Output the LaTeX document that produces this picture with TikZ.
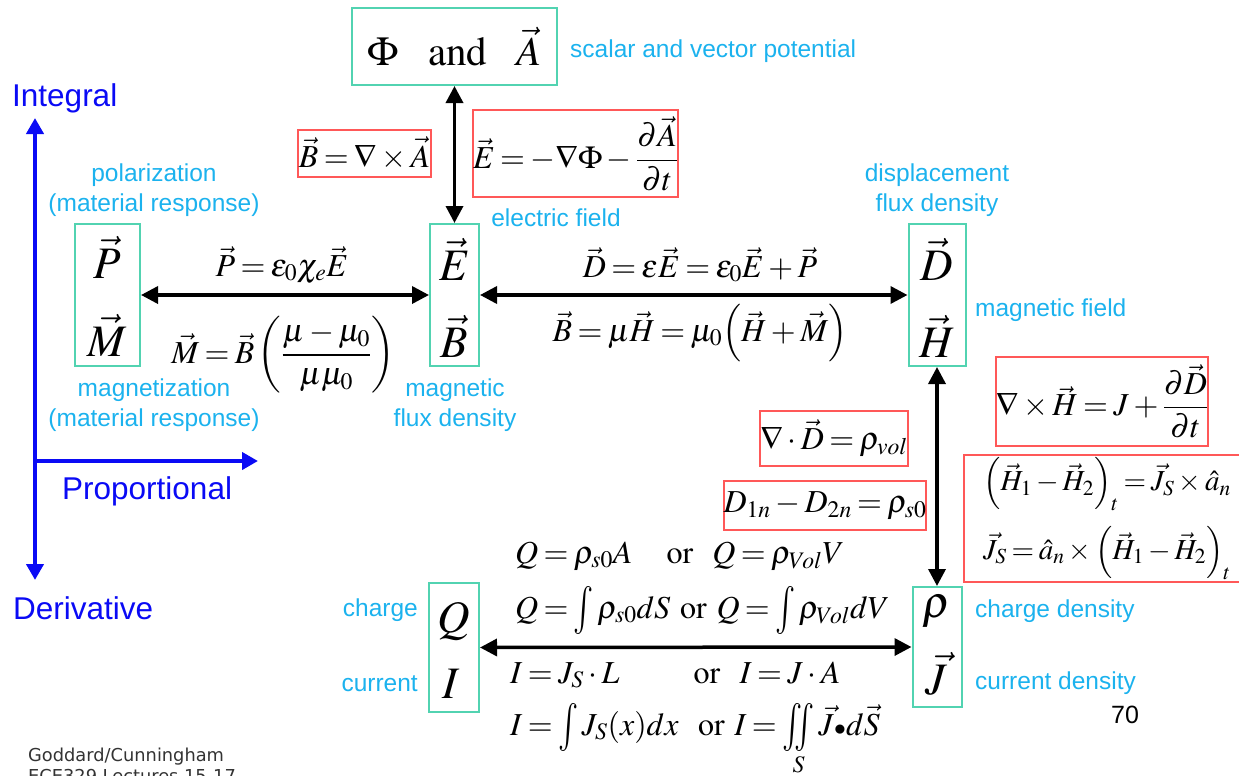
\documentclass[tikz,border=0pt]{standalone}
\usepackage{amsmath}
\usepackage{mathptmx}
\usepackage[no-math]{fontspec}
\usepackage{tikz}
\usetikzlibrary{arrows.meta}
\newfontfamily\labelfont{Liberation Sans}
\newfontfamily\footfont{DejaVu Sans}
\definecolor{emTeal}{HTML}{52D3B1}
\definecolor{emRed}{HTML}{FF5858}
\definecolor{emCyan}{HTML}{1BB2EE}
\definecolor{emBlue}{HTML}{0A0AF5}
\definecolor{emFoot}{HTML}{333333}
\thickmuskip=3mu
\medmuskip=2.5mu
\newcommand{\tallint}{\mathop{\vcenter{\hbox{\scalebox{1.05}[1.5]{$\int$}}}}\nolimits}
\newcommand{\talliint}{\mathop{\vcenter{\hbox{\scalebox{1.05}[1.5]{$\iint$}}}}\limits}

\begin{document}
\begin{tikzpicture}[x=1pt, y=-1pt,
  fieldbox/.style={draw=emTeal, line width=2pt, inner sep=0pt},
  eqbox/.style={draw=emRed, line width=2pt, inner sep=0pt},
  tag/.style={text=emCyan, font=\labelfont\fontsize{24.5}{30}\selectfont, align=center, inner sep=0pt},
  axislabel/.style={text=emBlue, font=\labelfont\fontsize{31.5}{36}\selectfont, inner sep=0pt, anchor=base west},
  eqn/.style={font=\fontsize{32}{38}\selectfont, inner sep=0pt},
  symb/.style={font=\fontsize{45}{50}\selectfont, inner sep=0pt, anchor=base},
  link/.style={{Triangle[length=17pt,width=17pt]}-{Triangle[length=17pt,width=17pt]}, line width=3.5pt},
  axisline/.style={draw=emBlue, line width=4pt}]
  \useasboundingbox (0,0) rectangle (1239,776);

  % axes
  \coordinate (origin) at (35,461);
  \coordinate (intTip) at (35,118);
  \coordinate (derTip) at (35,580);
  \coordinate (propTip) at (258,461);
  \draw[axisline, {Triangle[length=16pt,width=17pt]}-{Triangle[length=16pt,width=17pt]}] (intTip) -- (derTip);
  \draw[axisline, -{Triangle[length=16pt,width=17pt]}] (origin) -- (propTip);
  \node[axislabel] (intLbl) at (12,106) {Integral};
  \node[axislabel] (propLbl) at (62,499) {Proportional};
  \node[axislabel] (derLbl) at (13,619) {Derivative};

  % field boxes
  \node[fieldbox, minimum width=205, minimum height=77, font=\fontsize{41}{46}\selectfont] (pot) at (454.5,46.5) {$\Phi\ \ \,\mathrm{and}\ \ \,\vec A$};
  \foreach \name/\x/\y/\w/\h in {PM/107.5/295/65/142, EB/454.5/295/49/142, DH/937/295/57/142, QI/454/647.5/50/129, RJ/937/647/49/120}
    \node[fieldbox, minimum width=\w, minimum height=\h] (\name) at (\x,\y) {};
  \foreach \name/\x/\y/\sym in {symP/107.5/278/{\vec P}, symM/107.5/356/{\vec M}, symE/454.5/280/{\vec E}, symB/454.5/357/{\vec B}, symD/937/280/{\vec D}, symH/937/357/{\vec H}, symQ/454/632/Q, symI/451/698/I, symRho/937/617/\rho, symJ/937/694/{\vec J}}
    \node[symb] (\name) at (\x,\y) {$\sym$};

  % links
  \draw[link] (pot.south) -- (EB.north);
  \draw[link] (PM.east) -- (EB.west);
  \draw[link] (EB.east) -- (DH.west);
  \draw[link] (DH.south) -- (RJ.north);
  \draw[link] (QI.east) -- (RJ.west);

  % boxed relations
  \node[eqbox, eqn, minimum width=133, minimum height=47] (curlA) at (364.5,153.5) {$\vec B=\nabla\times\vec A$};
  \node[eqbox, eqn, minimum width=197, minimum height=87] (gradE) at (575.5,153.5) {$\vec E=-\nabla\Phi-\dfrac{\partial\vec A}{\partial t}$};
  \node[eqbox, eqn, minimum width=148, minimum height=55] (divD) at (834,438.5) {$\nabla\cdot\vec D=\rho_{vol}$};
  \node[eqbox, eqn, minimum width=198, minimum height=49] (bcD) at (825,505.5) {$D_{1n}-D_{2n}=\rho_{s0}$};
  \node[eqbox, eqn, minimum width=210, minimum height=89] (curlH) at (1102,401.5) {$\nabla\times\vec H=J+\dfrac{\partial\vec D}{\partial t}$};
  \node[eqbox, minimum width=286, minimum height=127, align=left, font=\fontsize{29}{35}\selectfont] (bcH) at (1107,518.5) {$\Bigl(\vec H_1-\vec H_2\Bigr)_t=\vec J_S\times\hat a_n$\\[14pt]$\vec J_S=\hat a_n\times\Bigl(\vec H_1-\vec H_2\Bigr)_t$};

  % constitutive relations
  \node[eqn] (polEq) at (282,265) {$\vec P=\varepsilon_0\chi_e\vec E$};
  \node[eqn] (magEq) at (283,355) {$\vec M=\vec B\left(\dfrac{\mu-\mu_0}{\mu\mu_0}\right)$};
  \node[eqn] (dispEq) at (700,265) {$\vec D=\varepsilon\vec E=\varepsilon_0\vec E+\vec P$};
  \node[eqn] (indEq) at (700,333) {$\vec B=\mu\vec H=\mu_0\Bigl(\vec H+\vec M\Bigr)$};
  \node[eqn, anchor=base west] (chargeA) at (515,563) {$Q=\rho_{s0}A\hspace{34pt}\mathrm{or}\ \ Q=\rho_{Vol}V$};
  \node[eqn, anchor=base west] (chargeB) at (515,618) {$Q=\tallint\rho_{s0}dS\ \mathrm{or}\ Q=\tallint\rho_{Vol}dV$};
  \node[eqn, anchor=base west] (currA) at (510,683) {$I=J_S\cdot L\hspace{74pt}\mathrm{or}\ \ I=J\cdot A$};
  \node[eqn, anchor=base west] (currB) at (510,735) {$I=\tallint J_S(x)dx\ \ \mathrm{or}\ I=\talliint_S\vec J{\scriptstyle\bullet}d\vec S$};

  % labels
  \node[tag, anchor=base west] (potLbl) at (570,57) {scalar and vector potential};
  \node[tag, anchor=base] (eLbl) at (556,226) {electric field};
  \node[tag] (polLbl) at (154,190.5) {polarization\\(material response)};
  \node[tag] (magnLbl) at (154,405.5) {magnetization\\(material response)};
  \node[tag] (bLbl) at (455,405.5) {magnetic\\flux density};
  \node[tag] (dLbl) at (937,190.5) {displacement\\flux density};
  \node[tag, anchor=base west] (hLbl) at (975,316) {magnetic field};
  \node[tag, anchor=base west] (rhoLbl) at (975,617) {charge density};
  \node[tag, anchor=base west] (jLbl) at (975,689) {current density};
  \node[tag, anchor=base east] (qLbl) at (418,616) {charge};
  \node[tag, anchor=base east] (iLbl) at (418,691) {current};

  % footer
  \node[font=\labelfont\fontsize{25}{30}\selectfont, anchor=base, inner sep=0pt] (pageNo) at (1125,723) {70};
  \node[font=\footfont\fontsize{17.8}{21}\selectfont, text=emFoot, anchor=base west, inner sep=0pt] (credit) at (28,761) {Goddard/Cunningham};
  \node[font=\footfont\fontsize{17.8}{21}\selectfont, text=emFoot, anchor=base west, inner sep=0pt] (course) at (28,782) {ECE329 Lectures 15-17};
\end{tikzpicture}
\end{document}
